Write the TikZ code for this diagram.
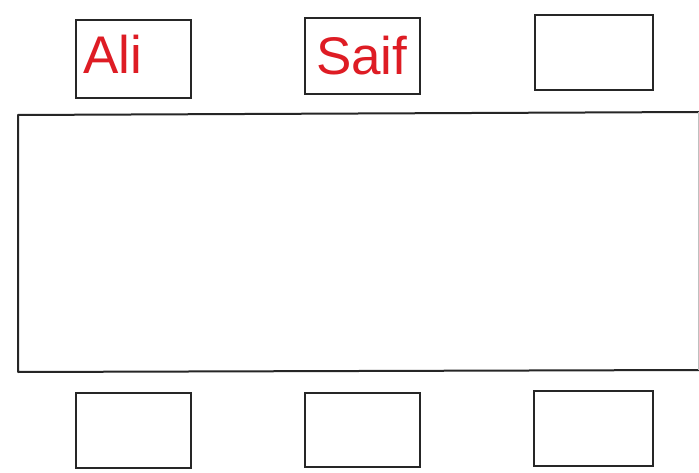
\documentclass[tikz,border=0pt]{standalone}
\usepackage{fontspec}
\setmainfont{Liberation Sans}
\usepackage{tikz}
\usetikzlibrary{positioning}
\definecolor{namered}{RGB}{222,28,36}
\definecolor{penline}{RGB}{38,38,38}

\begin{document}
\begin{tikzpicture}[x=1pt, y=-1pt, every node/.style={inner sep=0pt, outer sep=0pt}, chair/.style={draw=penline, line width=2pt, minimum width=115pt, minimum height=76pt}, guest/.style={anchor=base west, text=namered, font=\fontsize{53}{53}\selectfont}]
\path[use as bounding box, fill=white] (0,0) rectangle (699,473);
\node[chair, minimum height=78pt] (C1) at (133.5,59) {};
\node[chair] (C2) at (362.5,56) {};
\node[chair, minimum width=118pt, minimum height=75pt] (C3) at (594,52.5) {};
\node[chair, minimum height=75pt] (C4) at (133.5,430.5) {};
\node[chair, minimum height=74pt] (C5) at (362.5,430) {};
\node[chair, minimum width=119pt, minimum height=75pt] (C6) at (593.5,428.5) {};
\coordinate (TNE) at (699,112);
\coordinate (TNW) at (18,115);
\coordinate (TSW) at (18,372);
\coordinate (TSE) at (699,370);
\draw[penline, line width=2pt, line join=round] (TNE) -- (TNW) -- (TSW) -- (TSE);
\draw[black!25, line width=1pt] ([xshift=-1pt]TNE) -- ([xshift=-1pt]TSE);
\node[guest] (ali) at (83,74) {Ali};
\node[guest] (saif) at (316,75) {Saif};
\end{tikzpicture}
\end{document}
